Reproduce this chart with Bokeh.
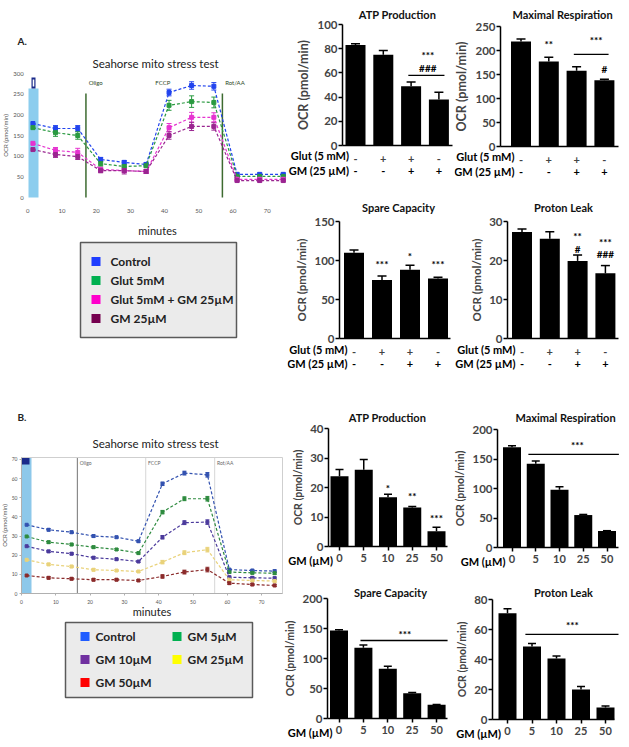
from bokeh.plotting import figure
from bokeh.models import ColumnDataSource, FixedTicker, Whisker, TeeHead
from bokeh.layouts import row, column
from bokeh.embed import file_html
from bokeh.resources import INLINE
from bokeh.core.properties import value

FONT = "Lato"

# ======================= DATA =======================
# ---- Panel A: Seahorse mito stress test trace ----
a_minutes = [1.5, 8.1, 14.6, 21.3, 28.2, 34.6, 41.3, 47.9, 54.4, 61.2, 67.8, 74.7]
a_names = ["Control", "Glut 5mM", "Glut 5mM + GM 25µM", "GM 25µM"]
a_control = [179, 167, 167, 92, 85, 80, 254, 271, 269, 56, 56, 56]
a_glut = [169, 157, 150, 82, 75, 77, 223, 232, 230, 51, 51, 51]
a_glut_gm = [131, 114, 109, 68, 65, 63, 169, 194, 194, 44, 44, 44]
a_gm = [116, 104, 99, 65, 65, 63, 150, 172, 172, 41, 41, 41]
a_control_err = [8, 7, 7, 5, 4, 4, 8, 9, 9, 3, 3, 3]
a_glut_err = [10, 9, 9, 6, 4, 4, 12, 14, 13, 3, 3, 3]
a_glut_gm_err = [9, 7, 10, 5, 4, 4, 10, 12, 11, 3, 3, 3]
a_gm_err = [8, 7, 7, 5, 8, 5, 9, 10, 9, 3, 3, 3]
a_xticks = [0, 10, 20, 30, 40, 50, 60, 70]
a_yticks = [0, 50, 100, 150, 200, 250, 300]
a_inj_names = ["Oligo", "FCCP", "Rot/AA"]
a_inj_min = [17.0, 36.5, 56.9]

# ---- Panel A: bar charts ----
a_glut_signs = ["-", "+", "+", "-"]
a_gm_signs = ["-", "-", "+", "+"]
atp_a = [83, 75, 49, 38]
atp_a_sem = [1, 3.5, 3.5, 6]
maxr_a = [219, 177, 158, 138]
maxr_a_sem = [5, 9, 8, 2]
spare_a = [110, 75, 88, 77]
spare_a_sem = [3.5, 5, 6, 1.5]
leak_a = [27.3, 25.6, 19.9, 16.7]
leak_a_sem = [0.8, 1.8, 1.5, 2.0]
atp_a_sig = (["***", "###"], [3.6, 3.6], [75, 64])
maxr_a_sig = (["**", "***", "#"], [2.0, 3.7, 4.0], [214, 221, 162])
spare_a_sig = (["***", "*", "***"], [2.0, 3.0, 4.0], [95, 106, 95])
leak_a_sig = (["**", "#", "***", "###"], [3.0, 3.0, 4.0, 4.0], [26.4, 22.9, 24.7, 21.6])
atp_a_line = [(2.9, 4.2, 58)]
maxr_a_line = [(2.9, 4.15, 192)]

# ---- Panel B: Seahorse trace ----
b_minutes = [1.5, 7.9, 14.6, 21.0, 27.7, 34.1, 41.1, 47.5, 54.2, 60.6, 67.3, 73.8]
b_names = ["Control", "GM 5µM", "GM 10µM", "GM 25µM", "GM 50µM"]
b_control = [35.9, 33.3, 32.0, 30.0, 29.4, 27.3, 57.3, 62.9, 62.0, 12.5, 12.0, 11.7]
b_gm5 = [29.8, 26.8, 25.6, 24.2, 23.0, 21.1, 42.5, 49.5, 49.5, 11.2, 10.8, 10.6]
b_gm10 = [24.7, 22.0, 20.8, 18.7, 17.9, 16.7, 29.4, 37.0, 37.3, 8.5, 8.2, 8.0]
b_gm25 = [17.6, 15.2, 14.1, 12.4, 12.0, 11.5, 16.4, 21.3, 22.9, 7.2, 6.8, 6.5]
b_gm50 = [9.4, 8.2, 7.7, 7.2, 7.2, 6.8, 8.9, 11.2, 12.5, 5.4, 4.7, 4.2]
b_err = [0.8, 0.6, 0.6, 0.6, 0.5, 0.5, 0.9, 1.0, 1.2, 0.6, 0.6, 0.6]
b_xticks = [0, 10, 20, 30, 40, 50, 60, 70]
b_yticks = [0, 10, 20, 30, 40, 50, 60, 70]
b_inj_names = ["Oligo", "FCCP", "Rot/AA"]
b_inj_min = [16.3, 36.2, 56.3]

# ---- Panel B: bar charts ----
b_doses = ["0", "5", "10", "25", "50"]
atp_b = [23.8, 26.0, 16.7, 13.2, 5.2]
atp_b_sem = [2.3, 3.5, 1.0, 0.4, 1.3]
maxr_b = [170, 142, 98, 55, 28]
maxr_b_sem = [2.5, 4.5, 5, 1, 0.5]
spare_b = [146.5, 118, 83, 42, 23]
spare_b_sem = [1.5, 4.5, 4, 1.3, 0.5]
leak_b = [70.8, 48.7, 40.7, 20.0, 8.0]
leak_b_sem = [3, 2, 1.7, 2, 1]
atp_b_sig = (["*", "**", "***"], [3.0, 4.0, 5.0], [19.7, 17.0, 9.8])
maxr_b_sig = (["***"], [3.75], [173])
spare_b_sig = (["***"], [3.7], [141])
leak_b_sig = (["***"], [3.65], [62.7])
maxr_b_line = [(1.69, 5.5, 158)]
spare_b_line = [(1.88, 5.45, 130)]
leak_b_line = [(1.73, 5.53, 56.7)]

A_LINE_COLORS = ["#2244ee", "#2a9a40", "#e633d0", "#9a2590"]
A_LEG_COLORS = ["#1f3dff", "#00b050", "#ff00cc", "#75004f"]
B_LINE_COLORS = ["#3352b0", "#2e8b3f", "#4b3a9c", "#e9d27a", "#8b2b2b"]
B_LEG_COLORS = ["#1f5cff", "#00b050", "#7030a0", "#ffff00", "#ff0000"]


# ======================= HELPERS =======================
def canvas(box, X, Y):
    """Figure whose frame fills the whole box; X/Y map page pixels -> data."""
    x0, y0, x1, y1 = box
    p = figure(width=x1 - x0, height=y1 - y0, x_range=(X(x0), X(x1)),
               y_range=(Y(y1), Y(y0)), min_border=0, title=None,
               output_backend="svg", toolbar_location=None)
    p.xgrid.grid_line_color = None
    p.ygrid.grid_line_color = None
    p.outline_line_color = None
    p.background_fill_color = "white"
    p.border_fill_color = "white"
    return p


def txt(p, x, y, text, size, bold=False, align="center", color="black", baseline="middle"):
    p.text(x=x, y=y, text=text, text_align=align, text_baseline=baseline,
           text_font=value(FONT), text_font_style="bold" if bold else "normal",
           text_font_size=size, text_color=color)


def bar_panel(title, box, zero_px, tick_top_px, yaxis_px, xend_px, first_c, step, bw,
              title_px, yticks, means, sems, row_titles, row_signs, row_off, sig, sig_lines,
              ticks_out, ylab_size):
    ppu = (zero_px - tick_top_px) / yticks[-1]
    X = lambda px: (px - first_c) / step + 1
    Y = lambda py: (zero_px - py) / ppu
    p = canvas(box, X, Y)
    n = len(means)
    cats = list(range(1, n + 1))
    p.vbar(x=cats, top=means, width=bw / step, fill_color="black", line_color=None)
    src = ColumnDataSource(dict(x=cats, lo=means, up=[m + s for m, s in zip(means, sems)]))
    p.add_layout(Whisker(base="x", lower="lo", upper="up", source=src, line_color="black",
                         line_width=1.5, lower_head=None,
                         upper_head=TeeHead(size=int(bw * 0.45), line_color="black",
                                            line_width=1.5)))
    txt(p, [X(title_px[0])], [Y(title_px[1])], [title], "11px", bold=True, color="#111")
    ya = p.yaxis[0]
    ya.fixed_location = X(yaxis_px)
    ya.ticker = FixedTicker(ticks=yticks)
    ya.bounds = (0, yticks[-1])
    ya.axis_line_width = 1.5
    ya.major_tick_line_width = 1.5
    ya.major_tick_out = 4
    ya.major_tick_in = 0
    ya.minor_tick_line_color = None
    ya.major_label_standoff = 1
    ya.major_label_text_font = FONT
    ya.major_label_text_font_style = "bold"
    ya.major_label_text_font_size = "11.5px"
    ya.axis_label = "OCR (pmol/min)"
    ya.axis_label_text_font = FONT
    ya.axis_label_text_font_style = "bold"
    ya.axis_label_text_font_size = ylab_size
    ya.axis_label_standoff = 3
    xa = p.xaxis[0]
    xa.fixed_location = 0
    xa.bounds = (X(yaxis_px), X(xend_px))
    xa.ticker = FixedTicker(ticks=cats)
    xa.major_label_overrides = {c: s for c, s in zip(cats, row_signs[0])}
    xa.major_label_text_font = FONT
    xa.major_label_text_font_style = "bold"
    xa.major_label_text_font_size = "11px"
    xa.minor_tick_line_color = None
    xa.axis_line_width = 1.5
    if ticks_out:
        xa.major_tick_out = 4
        xa.major_tick_in = 0
        xa.major_tick_line_width = 1.5
    else:
        xa.major_tick_line_color = None
    xa.major_label_standoff = 3
    for k in range(1, len(row_signs)):
        txt(p, cats, [Y(zero_px + row_off[k])] * n, row_signs[k], "11px", bold=True)
    for k, t in enumerate(row_titles):
        txt(p, [1 - 6.5 / step], [Y(zero_px + row_off[k])], [t], "11px", bold=True,
            align="right")
    s_txt, s_x, s_y = sig
    txt(p, s_x, s_y, s_txt, "10px", bold=True)
    for (a, b, yv) in sig_lines:
        p.segment(x0=[a], x1=[b], y0=[yv], y1=[yv], line_color="black", line_width=1.3)
    return p


def add_series(p, t, vals, errs, color, msize, cap):
    p.line(t, vals, line_color=color, line_width=1.2, line_dash="3 2")
    p.scatter(t, vals, marker="square", size=msize, fill_color=color, line_color=color)
    src = ColumnDataSource(dict(x=t, lo=[v - e for v, e in zip(vals, errs)],
                                up=[v + e for v, e in zip(vals, errs)]))
    p.add_layout(Whisker(base="x", lower="lo", upper="up", source=src, line_color=color,
                         line_width=1,
                         lower_head=TeeHead(size=cap, line_color=color, line_width=1),
                         upper_head=TeeHead(size=cap, line_color=color, line_width=1)))


def style_trace_axes(p, xticks, yticks, xb, yb, tick_fs, xstand, lab_stand, axis_col):
    xa, ya = p.xaxis[0], p.yaxis[0]
    xa.fixed_location = 0
    ya.fixed_location = 0
    xa.bounds = xb
    ya.bounds = yb
    xa.ticker = FixedTicker(ticks=xticks)
    ya.ticker = FixedTicker(ticks=yticks)
    for ax in (xa, ya):
        ax.major_label_text_font = FONT
        ax.major_label_text_font_size = tick_fs
        ax.major_label_text_color = "#555"
        ax.minor_tick_line_color = None
        ax.axis_line_color = axis_col
        ax.major_tick_line_color = axis_col
        ax.major_tick_out = 2
        ax.major_tick_in = 0
    xa.major_label_standoff = xstand
    ya.major_label_standoff = 2
    xa.axis_label = "minutes"
    xa.axis_label_text_font = FONT
    xa.axis_label_text_font_style = "normal"
    xa.axis_label_text_font_size = "11px"
    xa.axis_label_text_color = "#222"
    xa.axis_label_standoff = lab_stand
    ya.axis_label = "OCR (pmol/min)"
    ya.axis_label_text_font = FONT
    ya.axis_label_text_font_style = "normal"
    ya.axis_label_text_font_size = "6px"
    ya.axis_label_text_color = "#555"
    ya.axis_label_standoff = 1


def key_box(p, X, Y, box_px, names, colors, first_px, row_step, col_step, ncols, sq,
            text_dx, fs):
    """Grey legend key: boxed list of colour squares with their series names."""
    bx0, by0, bx1, by1 = box_px
    p.quad(left=[X(bx0)], right=[X(bx1)], top=[Y(by0)], bottom=[Y(by1)],
           fill_color="#ebebeb", line_color="#5a5a5a", line_width=1.5)
    cx = [first_px[0] + (i % ncols) * col_step for i in range(len(names))]
    cy = [first_px[1] + (i // ncols) * row_step for i in range(len(names))]
    p.quad(left=[X(x) for x in cx], right=[X(x + sq) for x in cx],
           top=[Y(y - sq / 2) for y in cy], bottom=[Y(y + sq / 2) for y in cy],
           fill_color=colors, line_color=None)
    txt(p, [X(x + text_dx) for x in cx], [Y(y) for y in cy], names, fs, bold=True,
        align="left", color="#222")


# ======================= PANEL A =======================
XA = lambda px: (px - 27.3) / 3.42
YA = lambda py: (197 - py) / 0.4133
lineA = canvas((0, 0, 287, 372), XA, YA)
lineA.quad(left=[XA(28)], right=[XA(38)], bottom=[0], top=[YA(88)], fill_color="#8ccdee",
           line_color=None)
lineA.quad(left=[XA(31)], right=[XA(35)], bottom=[YA(88)], top=[YA(77)],
           fill_color="#1a2a8a", line_color=None)
lineA.quad(left=[XA(32.2)], right=[XA(33.8)], bottom=[YA(86)], top=[YA(79)],
           fill_color="#ffffff", line_color=None)
lineA.segment(x0=[a_inj_min[0], a_inj_min[2]], x1=[a_inj_min[0], a_inj_min[2]],
              y0=[0, 0], y1=[YA(93)] * 2, line_color="#3d6b30", line_width=1.5)
txt(lineA, [m + 0.8 for m in a_inj_min], [YA(82)] * 3, a_inj_names, "6px",
    align="left", color="#2d4a25")
for vals, errs, c in zip([a_control, a_glut, a_glut_gm, a_gm],
                         [a_control_err, a_glut_err, a_glut_gm_err, a_gm_err],
                         A_LINE_COLORS):
    add_series(lineA, a_minutes, vals, errs, c, 4, 5)
style_trace_axes(lineA, a_xticks, a_yticks, (0, XA(287)), (0, 300), "6px", 9, 8, None)
txt(lineA, [XA(155)], [YA(63)], ["Seahorse mito stress test"], "11.5px", color="#222")
txt(lineA, [XA(17)], [YA(40)], ["A."], "10px", bold=True, align="left", color="#222")
key_box(lineA, XA, YA, (80, 242, 236, 337), a_names, A_LEG_COLORS, (91, 261), 19, 0, 1,
        9, 19, "12px")

atpA = bar_panel("ATP Production", (287, 0, 454, 185), 145, 24, 342, 452, 355, 27.8, 20,
                 (397, 14), [0, 20, 40, 60, 80, 100], atp_a, atp_a_sem,
                 ["Glut (5 mM)", "GM (25 µM)"], [a_glut_signs, a_gm_signs], [10, 25],
                 atp_a_sig, atp_a_line, False, "12.5px")
maxA = bar_panel("Maximal Respiration", (454, 0, 628, 185), 146, 26, 500, 618, 520.5, 27.8,
                 20, (562, 14), [0, 50, 100, 150, 200, 250], maxr_a, maxr_a_sem,
                 ["Glut (5 mM)", "GM (25 µM)"], [a_glut_signs, a_gm_signs], [10, 25],
                 maxr_a_sig, maxr_a_line, False, "12.5px")
spareA = bar_panel("Spare Capacity", (287, 185, 454, 372), 338, 221, 339, 450, 353.5, 28, 20,
                   (398, 207), [0, 50, 100, 150], spare_a, spare_a_sem,
                   ["Glut (5 mM)", "GM (25 µM)"], [a_glut_signs, a_gm_signs], [11, 25],
                   spare_a_sig, [], False, "11.5px")
leakA = bar_panel("Proton Leak", (454, 185, 628, 372), 338, 221, 507, 618, 521.5, 27.8, 20,
                  (563, 207), [0, 10, 20, 30], leak_a, leak_a_sem,
                  ["Glut (5 mM)", "GM (25 µM)"], [a_glut_signs, a_gm_signs], [11, 25],
                  leak_a_sig, [], False, "11.5px")

# ======================= PANEL B =======================
XB = lambda px: (px - 21) / 3.43
YB = lambda py: (593 - py) / 1.9143
lineB = canvas((0, 372, 283, 746), XB, YB)
lineB.quad(left=[0], right=[XB(31)], bottom=[0], top=[YB(457)], fill_color="#8dc8ea",
           line_color=None)
lineB.quad(left=[XB(21.5)], right=[XB(29)], bottom=[YB(464)], top=[YB(457)],
           fill_color="#1a2a8a", line_color=None)
lineB.segment(x0=b_inj_min, x1=b_inj_min, y0=[0, 0, 0], y1=[YB(457)] * 3,
              line_color=["#8a8a8a", "#dddddd", "#dddddd"], line_width=1.2)
txt(lineB, [m + 0.7 for m in b_inj_min], [YB(462)] * 3, b_inj_names, "5px",
    align="left", color="#666")
lineB.quad(left=[0], right=[XB(282)], bottom=[0], top=[YB(457)], fill_color=None,
           line_color="#cfcfcf", line_width=1)
for vals, c in zip([b_control, b_gm5, b_gm10, b_gm25, b_gm50], B_LINE_COLORS):
    add_series(lineB, b_minutes, vals, b_err, c, 3, 4)
style_trace_axes(lineB, b_xticks, b_yticks, (0, XB(282)), (0, YB(457)), "5px", 4, -2,
                 "#b0b0b0")
txt(lineB, [XB(155)], [YB(443)], ["Seahorse mito stress test"], "11.5px", color="#222")
txt(lineB, [XB(17)], [YB(416)], ["B."], "10px", bold=True, align="left", color="#222")
key_box(lineB, XB, YB, (65, 622, 252, 697), b_names, B_LEG_COLORS, (80, 636), 23, 92, 2,
        9, 15, "12px")

atpB = bar_panel("ATP Production", (283, 372, 452, 575), 546, 428, 328, 447, 339, 24.25, 18,
                 (387, 417), [0, 10, 20, 30, 40], atp_b, atp_b_sem, ["GM (µM)"], [b_doses],
                 [14], atp_b_sig, [], True, "10.5px")
maxB = bar_panel("Maximal Respiration", (452, 372, 628, 575), 547, 429, 497, 618, 511.5,
                 23.75, 18, (565, 417), [0, 50, 100, 150, 200], maxr_b, maxr_b_sem,
                 ["GM (µM)"], [b_doses], [14], maxr_b_sig, maxr_b_line, True, "10.5px")
spareB = bar_panel("Spare Capacity", (283, 575, 452, 746), 718, 598, 327, 447, 338.5, 24.4,
                   18, (390, 592), [0, 50, 100, 150, 200], spare_b, spare_b_sem,
                   ["GM (µM)"], [b_doses], [14], spare_b_sig, spare_b_line, True, "10.5px")
leakB = bar_panel("Proton Leak", (452, 575, 628, 746), 719, 599, 492, 614, 507, 24.5, 18,
                  (563, 592), [0, 20, 40, 60, 80], leak_b, leak_b_sem, ["GM (µM)"], [b_doses],
                  [14], leak_b_sig, leak_b_line, True, "10.5px")

# ======================= LAYOUT =======================
rowA = row(lineA, column(row(atpA, maxA, spacing=0), row(spareA, leakA, spacing=0), spacing=0),
           spacing=0)
rowB = row(lineB, column(row(atpB, maxB, spacing=0), row(spareB, leakB, spacing=0), spacing=0),
           spacing=0)
page = column(rowA, rowB, spacing=0)

open("out.html", "w").write(file_html(page, INLINE))
